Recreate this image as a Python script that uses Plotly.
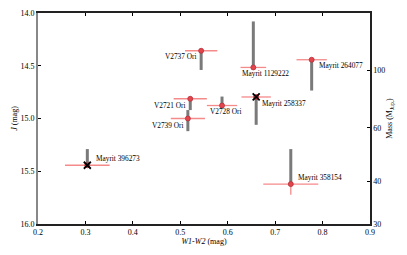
import plotly.graph_objects as go

# ---- data ----
names = ["V2737 Ori", "Mayrit 1129222", "V2721 Ori", "V2739 Ori", "V2728 Ori",
         "Mayrit 258337", "Mayrit 264077", "Mayrit 396273", "Mayrit 358154"]
w1w2 = [0.544, 0.654, 0.521, 0.516, 0.588, 0.660, 0.777, 0.304, 0.733]
w1w2_err = [0.034, 0.027, 0.035, 0.036, 0.032, 0.031, 0.032, 0.047, 0.058]
j_mag = [14.358, 14.516, 14.813, 15.000, 14.877, 14.796, 14.443, 15.443, 15.622]
j_err = [0.02, 0.02, 0.02, 0.02, 0.02, 0.02, 0.02, 0.02, 0.10]
gray_lo = [14.358, 14.080, 14.813, 14.920, 14.792, 14.796, 14.443, 15.290, 15.290]
gray_hi = [14.540, 14.516, 14.920, 15.120, 14.877, 15.060, 14.735, 15.443, 15.622]
crossed = ["Mayrit 258337", "Mayrit 396273"]

x_ticks = [0.2, 0.3, 0.4, 0.5, 0.6, 0.7, 0.8, 0.9]
j_ticks = [14.0, 14.5, 15.0, 15.5, 16.0]
mass_ticks = [30, 40, 60, 100]
mass_tick_j = [16.0, 15.598, 15.089, 14.545]

# label placement (pixel offsets: xanchor, dx, dy)
label_pos = {
    "V2737 Ori": ("right", -3, -6),
    "Mayrit 1129222": ("left", -13, -6),
    "V2721 Ori": ("right", -3, -7),
    "V2739 Ori": ("right", -3, -7),
    "V2728 Ori": ("left", -14, -6),
    "Mayrit 258337": ("left", 4, -6.5),
    "Mayrit 264077": ("left", 5, -6),
    "Mayrit 396273": ("left", 6.5, 7),
    "Mayrit 358154": ("left", 5, 7),
}

FONT = "Liberation Serif"
RED = "#e2454c"
ERR = "#f58a8a"
GRAY = "#7a7a7a"

fig = go.Figure()

# red error bars
fig.add_trace(go.Scatter(
    x=w1w2, y=j_mag, mode="markers",
    marker=dict(size=0.1, color="rgba(0,0,0,0)"),
    error_x=dict(type="data", array=w1w2_err, color=ERR, thickness=1.3, width=0),
    error_y=dict(type="data", array=j_err, color=ERR, thickness=1.3, width=0),
    showlegend=False, hoverinfo="skip"))

# gray bars
for i in range(len(names)):
    fig.add_trace(go.Scatter(
        x=[w1w2[i], w1w2[i]], y=[gray_lo[i], gray_hi[i]], mode="lines",
        line=dict(color=GRAY, width=3), showlegend=False, hoverinfo="skip"))

# red points
fig.add_trace(go.Scatter(
    x=w1w2, y=j_mag, mode="markers",
    marker=dict(size=5, color=RED, line=dict(color="#b8303a", width=0.8)),
    showlegend=False))

# black crosses
cx = [w1w2[names.index(n)] for n in crossed]
cy = [j_mag[names.index(n)] for n in crossed]
fig.add_trace(go.Scatter(
    x=cx, y=cy, mode="markers",
    marker=dict(symbol="x-thin-open", size=7, color="black",
                line=dict(color="black", width=1.8)),
    showlegend=False))

# invisible trace for right axis
fig.add_trace(go.Scatter(x=[0.2], y=[16], yaxis="y2", mode="markers",
                         marker=dict(opacity=0), showlegend=False, hoverinfo="skip"))

for i, n in enumerate(names):
    anchor, dx, dy = label_pos[n]
    fig.add_annotation(x=w1w2[i], y=j_mag[i], text=n, showarrow=False,
                       xanchor=anchor, yanchor="middle", xshift=dx, yshift=dy,
                       font=dict(family=FONT, size=7.3, color="black"))

tf = dict(family=FONT, size=8, color="black")
fig.update_layout(
    width=407, height=255,
    margin=dict(l=38, r=37, t=13, b=31, autoexpand=False),
    paper_bgcolor="white", plot_bgcolor="white",
    font=dict(family=FONT, size=8, color="black"),
    xaxis=dict(range=[0.2, 0.9], tickvals=x_ticks, tickformat=".1f",
               ticks="inside", ticklen=3, tickcolor="black", mirror="ticks",
               showline=True, linecolor="#222", linewidth=1.5, showgrid=False,
               zeroline=False, tickfont=tf, automargin=False,
               title=dict(text="<i>W1-W2</i> (mag)", font=tf, standoff=2)),
    yaxis=dict(range=[16, 14], tickvals=j_ticks, tickformat=".1f",
               ticks="inside", ticklen=3, tickcolor="black",
               showline=True, linecolor="#888", linewidth=2, showgrid=False,
               zeroline=False, tickfont=tf, automargin=False,
               title=dict(text="<i>J</i> (mag)", font=tf, standoff=2)),
    yaxis2=dict(range=[16, 14], overlaying="y", side="right",
                tickvals=mass_tick_j, ticktext=[str(m) for m in mass_ticks],
                ticks="inside", ticklen=3, tickcolor="black",
                showline=True, linecolor="#222", linewidth=1.5, showgrid=False,
                zeroline=False, tickfont=tf, automargin=False,
                title=dict(text="Mass (M<sub>Jup.</sub>)", font=tf, standoff=2)),
)

fig.write_html("out.html", config={"displayModeBar": False},
               post_script="document.body.style.margin='0';document.body.style.overflow='hidden';")
